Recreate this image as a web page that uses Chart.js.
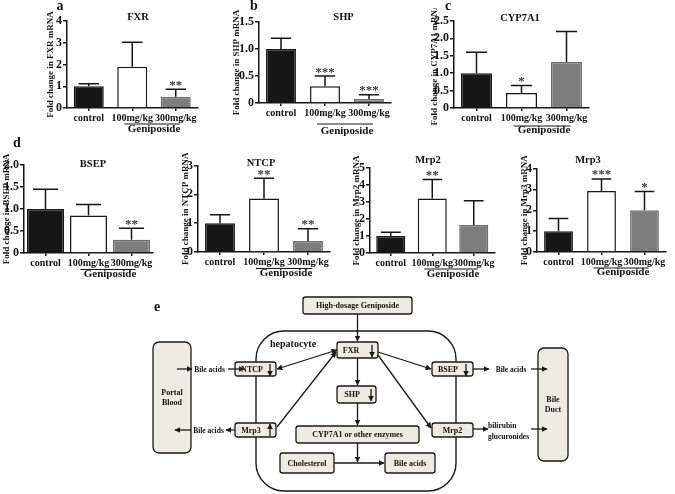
<!DOCTYPE html>
<html>
<head>
<meta charset="utf-8">
<script src="https://cdn.jsdelivr.net/npm/chart.js@4.4.1/dist/chart.umd.min.js"></script>
<style>
  body { margin: 0; background: #fff; }
  #fig { position: relative; width: 675px; height: 494px; overflow: hidden; }
  #fig canvas { position: absolute; }
  #dg { position: absolute; left: 0; top: 0; font-family: "Liberation Serif", "Times New Roman", serif; font-weight: bold; }
</style>
</head>
<body>
<div id="fig">
  <svg id="dg" width="675" height="494" xmlns="http://www.w3.org/2000/svg">
    <defs>
      <marker id="ah" viewBox="0 0 10 10" refX="9" refY="5" markerWidth="6" markerHeight="6"
              markerUnits="userSpaceOnUse" orient="auto-start-reverse">
        <path d="M0,0 L10,5 L0,10 z" fill="#1a1a1a"/>
      </marker>
    </defs>
  </svg>
</div>
<script>
// groups on every x axis
const groups = ['control', '100mg/kg', '300mg/kg'];

// mean fold change, top of the error bar, significance marks
const fxrMean = [1.0, 1.9, 0.52];
const fxrTop = [1.12, 3.02, 0.86];
const fxrSig = ['', '', '**'];

const shpMean = [1.0, 0.31, 0.075];
const shpTop = [1.2, 0.5, 0.155];
const shpSig = ['', '***', '***'];

const cypMean = [1.0, 0.43, 1.32];
const cypTop = [1.6, 0.65, 2.2];
const cypSig = ['', '*', ''];

const bsepMean = [1.0, 0.85, 0.3];
const bsepTop = [1.45, 1.1, 0.56];
const bsepSig = ['', '', '**'];

const ntcpMean = [1.0, 1.86, 0.38];
const ntcpTop = [1.29, 2.56, 0.81];
const ntcpSig = ['', '**', '**'];

const mrp2Mean = [1.0, 3.2, 1.64];
const mrp2Top = [1.22, 4.32, 3.07];
const mrp2Sig = ['', '**', ''];

const mrp3Mean = [1.0, 2.92, 2.0];
const mrp3Top = [1.6, 3.5, 2.9];
const mrp3Sig = ['', '***', '*'];

const SERIF = '"Liberation Serif", "Times New Roman", serif';
const barFill = ['#161616', '#ffffff', '#7d7d7d'];
const barEdge = ['#161616', '#161616', '#6e6e6e'];

Chart.defaults.font.family = SERIF;
Chart.defaults.font.weight = 'bold';
Chart.defaults.color = '#111';

// layout of each panel, in page pixels
const panels = [
  { mean: fxrMean, top: fxrTop, sig: fxrSig, title: 'FXR', yTitle: 'Fold change in FXR mRNA', max: 4, step: 1, dec: 0,
    axisX: 67, cat: 43.5, yTop: 21, zero: 108, titleX: 138, titleY: 17, yTitleX: 50, bar: 0.69, lineDy: 16, genDy: 21 },
  { mean: shpMean, top: shpTop, sig: shpSig, title: 'SHP', yTitle: 'Fold change in SHP mRNA', max: 1.5, step: 0.5, dec: 1,
    axisX: 259, cat: 44, yTop: 22, zero: 103, titleX: 343.5, titleY: 17, yTitleX: 235.5, bar: 0.68, lineDy: 21, genDy: 28 },
  { mean: cypMean, top: cypTop, sig: cypSig, title: 'CYP7A1', yTitle: 'Fold change in CYP7A1 mRNA', max: 2.5, step: 0.5, dec: 1,
    axisX: 454, cat: 45, yTop: 21, zero: 108, titleX: 520, titleY: 18, yTitleX: 433.5, bar: 0.69, lineDy: 18, genDy: 22 },
  { mean: bsepMean, top: bsepTop, sig: bsepSig, title: 'BSEP', yTitle: 'Fold change in BSEP mRNA', max: 2, step: 0.5, dec: 1,
    axisX: 24, cat: 43, yTop: 165, zero: 252.5, titleX: 93, titleY: 164, yTitleX: 5.5, bar: 0.86, lineDy: 16.5, genDy: 21.5 },
  { mean: ntcpMean, top: ntcpTop, sig: ntcpSig, title: 'NTCP', yTitle: 'Fold change in NTCP mRNA', max: 3, step: 1, dec: 0,
    axisX: 198, cat: 44, yTop: 165.6, zero: 251.7, titleX: 261, titleY: 163, yTitleX: 184.5, bar: 0.68, lineDy: 16.5, genDy: 21.5 },
  { mean: mrp2Mean, top: mrp2Top, sig: mrp2Sig, title: 'Mrp2', yTitle: 'Fold change in Mrp2 mRNA', max: 5, step: 1, dec: 0,
    axisX: 370, cat: 41.5, yTop: 168, zero: 252.5, titleX: 428, titleY: 160, yTitleX: 355.5, bar: 0.7, lineDy: 16, genDy: 21 },
  { mean: mrp3Mean, top: mrp3Top, sig: mrp3Sig, title: 'Mrp3', yTitle: 'Fold change in Mrp3 mRNA', max: 4, step: 1, dec: 0,
    axisX: 537, cat: 43, yTop: 168.5, zero: 251.7, titleX: 588, titleY: 160, yTitleX: 523.5, bar: 0.67, lineDy: 16, genDy: 20 }
];

// error bars, stars, panel title and the Geniposide bracket
const decor = {
  id: 'decor',
  afterDatasetsDraw(chart, args, o) {
    const ctx = chart.ctx;
    const y = chart.scales.y;
    const bars = chart.getDatasetMeta(0).data;
    ctx.save();
    ctx.strokeStyle = '#151515';
    ctx.lineWidth = 1.5;
    bars.forEach((b, i) => {
      const t = y.getPixelForValue(o.top[i]);
      const half = b.width * 0.34;
      ctx.beginPath();
      ctx.moveTo(b.x, b.y);
      ctx.lineTo(b.x, t);
      ctx.moveTo(b.x - half, t);
      ctx.lineTo(b.x + half, t);
      ctx.stroke();
      if (o.sig[i]) {
        ctx.fillStyle = '#3a3a3a';
        ctx.font = 'bold 13px ' + SERIF;
        ctx.textAlign = 'center';
        ctx.textBaseline = 'alphabetic';
        ctx.fillText(o.sig[i], b.x, t - 0.5);
      }
    });
    const z = y.getPixelForValue(0);
    const c2 = bars[1].x, c3 = bars[2].x;
    ctx.lineWidth = 1;
    ctx.beginPath();
    ctx.moveTo(c2 - 8, z + o.lineDy);
    ctx.lineTo(c3 + 4, z + o.lineDy);
    ctx.stroke();
    ctx.fillStyle = '#111';
    ctx.textAlign = 'center';
    ctx.textBaseline = 'middle';
    ctx.font = 'bold 11px ' + SERIF;
    ctx.fillText('Geniposide', (c2 + c3) / 2, z + o.genDy);
    ctx.font = 'bold 10.5px ' + SERIF;
    ctx.fillText(o.title, o.tx, o.ty);
    ctx.restore();
  }
};

const fig = document.getElementById('fig');

function makePanel(p) {
  const left = Math.max(0, Math.round(p.yTitleX - 6));
  const top = Math.floor(Math.min(p.titleY, p.yTop) - 10);
  const right = p.axisX + 3 * p.cat;
  const xH = 34;
  const W = Math.ceil(right - left + 14);
  const H = Math.ceil(p.zero - top + xH);
  const cv = document.createElement('canvas');
  cv.width = W;
  cv.height = H;
  cv.style.left = left + 'px';
  cv.style.top = top + 'px';
  fig.insertBefore(cv, fig.firstChild);

  new Chart(cv, {
    type: 'bar',
    data: {
      labels: groups,
      datasets: [{
        data: p.mean,
        backgroundColor: barFill,
        borderColor: barEdge,
        borderWidth: 1.5,
        barPercentage: p.bar,
        categoryPercentage: 1
      }]
    },
    options: {
      responsive: false,
      animation: false,
      devicePixelRatio: 1,
      layout: { padding: { top: p.yTop - top, right: W - (right - left), left: 0, bottom: 0 } },
      plugins: {
        legend: { display: false },
        tooltip: { enabled: false },
        decor: { top: p.top, sig: p.sig, title: p.title, tx: p.titleX - left, ty: p.titleY - top,
                 lineDy: p.lineDy, genDy: p.genDy }
      },
      scales: {
        y: {
          min: 0,
          max: p.max,
          ticks: { stepSize: p.step, padding: 1, font: { size: 12 }, autoSkip: false,
                   callback: v => v === 0 ? '0' : v.toFixed(p.dec) },
          grid: { drawOnChartArea: false, drawTicks: true, tickLength: 4, color: '#151515', lineWidth: 1.5 },
          border: { color: '#151515', width: 1.5 },
          title: { display: true, text: p.yTitle, font: { size: 9 }, padding: 1 },
          afterFit: s => { s.width = p.axisX - left; }
        },
        x: {
          offset: true,
          ticks: { padding: 1, font: { size: 10 }, maxRotation: 0, autoSkip: false },
          grid: { offset: false, drawOnChartArea: false, drawTicks: true, tickLength: 3, color: '#151515', lineWidth: 1.5 },
          border: { color: '#151515', width: 1.5 },
          afterFit: s => { s.height = xH; }
        }
      }
    },
    plugins: [decor]
  });
}

panels.forEach(makePanel);

// mechanism diagram (panel e) and panel letters
const dg = document.getElementById('dg');
function put(tag, attrs, txt) {
  const e = document.createElementNS('http://www.w3.org/2000/svg', tag);
  for (const k in attrs) e.setAttribute(k, attrs[k]);
  if (txt) e.textContent = txt;
  dg.appendChild(e);
  return e;
}
function box(x, y, w, h, r) {
  put('rect', { x, y, width: w, height: h, rx: r || 2.5, fill: '#eeebe2', stroke: '#1a1a1a', 'stroke-width': 1.3 });
}
function txt(x, y, s, size, anchor) {
  put('text', { x, y, 'font-size': size || 8, 'text-anchor': anchor || 'middle', 'dominant-baseline': 'central', fill: '#111' }, s);
}
function arrow(x1, y1, x2, y2, both) {
  const a = { x1, y1, x2, y2, stroke: '#1a1a1a', 'stroke-width': 1.3, 'marker-end': 'url(#ah)' };
  if (both) a['marker-start'] = 'url(#ah)';
  put('line', a);
}

[['a', 60, 10], ['b', 254, 10], ['c', 448, 10], ['d', 17, 147], ['e', 157, 311]].forEach(([s, x, y]) => {
  put('text', { x, y, 'font-size': 14, 'text-anchor': 'middle', fill: '#111' }, s);
});

put('rect', { x: 256, y: 331, width: 200, height: 160, rx: 28, fill: 'none', stroke: '#1a1a1a', 'stroke-width': 1.4 });
txt(270, 343, 'hepatocyte', 10, 'start');

box(303, 297, 109, 17); txt(357.5, 305.5, 'High-dosage Geniposide');
box(337, 342, 41, 16); txt(351, 350, 'FXR');
box(235, 362, 41, 14); txt(252, 369, 'NTCP');
box(235, 423, 41, 14); txt(251, 430, 'Mrp3');
box(337, 386, 39, 17); txt(352, 394.5, 'SHP');
box(296, 426, 123, 17); txt(357.5, 434.5, 'CYP7A1 or other enzymes');
box(280, 453, 54, 20); txt(307, 463, 'Cholesterol');
box(385, 453, 50, 20); txt(410, 463, 'Bile acids');
box(432, 362, 41, 14); txt(448, 369, 'BSEP');
box(432, 423, 41, 14); txt(452.5, 430, 'Mrp2');
box(153, 342, 38, 111, 6); txt(172, 392, 'Portal'); txt(172, 402, 'Blood');
box(538, 348, 30, 113, 6); txt(553, 399, 'Bile'); txt(553, 409, 'Duct');

// regulation arrows
arrow(357.5, 314, 357.5, 341);
arrow(357.5, 358, 357.5, 385);
arrow(357.5, 403, 357.5, 425);
arrow(357.5, 443, 357.5, 462);
arrow(334, 463, 384, 463);
arrow(337, 350, 277, 369, true);
arrow(277, 427, 336, 352);
arrow(378, 352, 431, 369);
arrow(378, 355, 431, 428);

// arrows inside boxes
arrow(372, 345, 372, 357);
arrow(270, 364, 270, 376);
arrow(270, 436, 270, 424);
arrow(371, 389, 371, 401);
arrow(466, 364, 466, 376);

// transport
arrow(177, 369, 192, 369); txt(209.5, 369, 'Bile acids', 7.5); arrow(228, 369, 244, 369);
arrow(235, 430, 226, 430); txt(208.5, 430, 'Bile acids', 7.5); arrow(191, 430, 175, 430);
arrow(473, 369, 489, 369); txt(511, 369, 'Bile acids', 7.5); arrow(531, 369, 547, 369);
arrow(473, 429, 488, 429); txt(488, 425, 'bilirubin', 7.5, 'start'); txt(488, 436, 'glucuronides', 7.5, 'start');
arrow(531, 429, 547, 429);
</script>
</body>
</html>
